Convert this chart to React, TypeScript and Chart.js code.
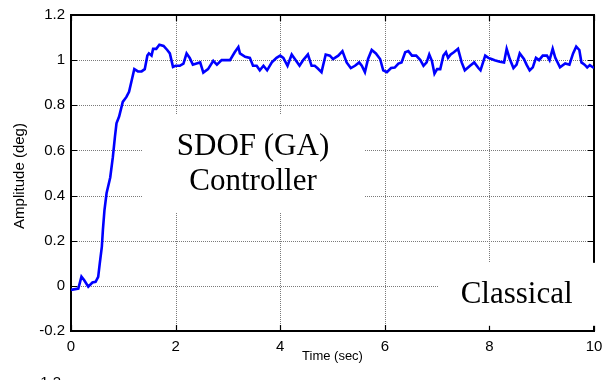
import React, { useEffect, useRef } from 'react';
import { Chart, registerables } from 'chart.js';

Chart.register(...registerables);

// Step response of the controlled single-degree-of-freedom system
const timeSec = [
  0, 0.14, 0.2, 0.25, 0.33, 0.41, 0.47, 0.52, 0.55, 0.59, 0.61, 0.64, 0.68, 0.75, 0.8, 0.84, 0.87, 0.92,
  0.99, 1.06, 1.11, 1.16, 1.21, 1.28, 1.35, 1.41, 1.46, 1.49, 1.54, 1.57, 1.63, 1.69, 1.77, 1.84, 1.89,
  1.92, 1.95, 2.0, 2.08, 2.15, 2.21, 2.27, 2.33, 2.4, 2.47, 2.53, 2.62, 2.72, 2.79, 2.88, 2.95, 3.04,
  3.13, 3.2, 3.23, 3.33, 3.42, 3.48, 3.55, 3.61, 3.68, 3.75, 3.84, 3.93, 4.0, 4.06, 4.14, 4.22, 4.28,
  4.37, 4.44, 4.53, 4.6, 4.66, 4.71, 4.79, 4.87, 4.95, 5.01, 5.11, 5.19, 5.27, 5.35, 5.43, 5.51, 5.56,
  5.62, 5.68, 5.75, 5.83, 5.91, 5.97, 6.04, 6.12, 6.19, 6.26, 6.32, 6.39, 6.45, 6.52, 6.6, 6.68, 6.74,
  6.8, 6.85, 6.9, 6.95, 7.0, 7.06, 7.12, 7.17, 7.21, 7.26, 7.32, 7.4, 7.47, 7.53, 7.63, 7.71, 7.79,
  7.83, 7.92, 7.98, 8.04, 8.1, 8.2, 8.28, 8.33, 8.39, 8.46, 8.52, 8.58, 8.66, 8.71, 8.77, 8.83, 8.89,
  8.95, 9.02, 9.1, 9.15, 9.21, 9.26, 9.35, 9.45, 9.53, 9.6, 9.66, 9.72, 9.76, 9.82, 9.87, 9.92, 10.0,
];

const amplitudeDeg = [
  -0.018, -0.012, 0.041, 0.026, -0.004, 0.015, 0.018, 0.04, 0.1, 0.174, 0.248, 0.336, 0.41, 0.48, 0.57,
  0.66, 0.72, 0.75, 0.815, 0.837, 0.86, 0.91, 0.96, 0.95, 0.95, 0.96, 1.02, 1.03, 1.02, 1.05, 1.05,
  1.068, 1.063, 1.045, 1.03, 1.0, 0.97, 0.975, 0.975, 0.985, 1.03, 1.01, 0.98, 0.985, 0.99, 0.945,
  0.96, 0.997, 0.98, 1.0, 1.0, 1.0, 1.035, 1.058, 1.03, 1.015, 1.01, 0.975, 0.975, 0.955, 0.975, 0.955,
  0.99, 1.01, 1.02, 1.01, 0.975, 1.025, 1.005, 0.975, 1.0, 1.025, 0.975, 0.975, 0.965, 0.947, 1.025,
  1.02, 1.005, 1.02, 1.04, 0.99, 0.965, 0.975, 0.99, 0.975, 0.947, 1.005, 1.045, 1.03, 1.005, 0.955,
  0.947, 0.965, 0.967, 0.985, 0.99, 1.035, 1.04, 1.02, 1.02, 1.0, 0.975, 0.99, 1.025, 0.997, 0.94,
  0.96, 0.96, 1.02, 1.035, 1.01, 1.025, 1.035, 1.05, 0.99, 0.955, 0.975, 0.99, 0.965, 0.955, 1.02,
  1.01, 1.005, 1.0, 0.993, 0.99, 1.05, 1.005, 0.965, 0.98, 1.03, 1.005, 0.98, 0.955, 0.968, 1.01, 1.0,
  1.02, 1.02, 1.0, 1.05, 1.01, 0.968, 0.985, 0.98, 1.03, 1.06, 1.045, 0.99, 0.98, 0.968, 0.978, 0.965,
];

const xTicks = [0, 2, 4, 6, 8, 10];
const xTickLabels = ['0', '2', '4', '6', '8', '10'];
const yTicks = [-0.2, 0, 0.2, 0.4, 0.6, 0.8, 1, 1.2];
const yTickLabels = ['-0.2', '0', '0.2', '0.4', '0.6', '0.8', '1', '1.2'];

const xTitle = 'Time (sec)';
const yTitle = 'Amplitude (deg)';
const noteLines = ['SDOF (GA)', 'Controller'];
const cornerNote = 'Classical';
const strayLabel = '1.2';

const SANS = '"Liberation Sans", Arial, sans-serif';
const SERIF = '"Liberation Serif", "Times New Roman", serif';

const framePlugin = {
  id: 'matlabFrame',
  beforeDatasetsDraw(chart: any) {
    const { ctx, chartArea: a, scales } = chart;
    const x = scales.x;
    const y = scales.y;
    ctx.save();
    // dotted grid
    ctx.strokeStyle = '#7a7a7a';
    ctx.lineWidth = 1;
    ctx.setLineDash([1, 1]);
    ctx.beginPath();
    xTicks.slice(1, -1).forEach((v) => {
      const px = Math.round(x.getPixelForValue(v)) + 0.5;
      ctx.moveTo(px, a.top);
      ctx.lineTo(px, a.bottom);
    });
    yTicks.slice(1, -1).forEach((v) => {
      const py = Math.round(y.getPixelForValue(v)) + 0.5;
      ctx.moveTo(a.left, py);
      ctx.lineTo(a.right, py);
    });
    ctx.stroke();

    // axes box
    ctx.setLineDash([]);
    ctx.strokeStyle = '#000000';
    ctx.lineWidth = 2;
    ctx.strokeRect(a.left, a.top, a.right - a.left, a.bottom - a.top);

    // inward tick marks on all four sides
    const tl = 6;
    ctx.lineWidth = 1.2;
    ctx.beginPath();
    xTicks.forEach((v) => {
      const px = Math.round(x.getPixelForValue(v)) + 0.5;
      ctx.moveTo(px, a.bottom);
      ctx.lineTo(px, a.bottom - tl);
      ctx.moveTo(px, a.top);
      ctx.lineTo(px, a.top + tl);
    });
    yTicks.forEach((v) => {
      const py = Math.round(y.getPixelForValue(v)) + 0.5;
      ctx.moveTo(a.left, py);
      ctx.lineTo(a.left + tl, py);
      ctx.moveTo(a.right, py);
      ctx.lineTo(a.right - tl, py);
    });
    ctx.stroke();
    ctx.restore();
  },
  afterDraw(chart: any) {
    const { ctx, chartArea: a, scales } = chart;
    const x = scales.x;
    const y = scales.y;
    ctx.save();

    // annotation panels
    ctx.fillStyle = '#ffffff';
    const l1 = x.getPixelForValue(1.36);
    const r1 = x.getPixelForValue(5.62);
    const t1 = y.getPixelForValue(0.757);
    const b1 = y.getPixelForValue(0.323);
    ctx.fillRect(l1, t1, r1 - l1, b1 - t1);

    const l2 = x.getPixelForValue(7.02);
    const t2 = y.getPixelForValue(0.102);
    const b2 = y.getPixelForValue(-0.177);
    ctx.fillRect(l2, t2, chart.width - l2, b2 - t2);

    ctx.fillStyle = '#000000';
    ctx.font = `31px ${SERIF}`;
    ctx.textAlign = 'center';
    ctx.textBaseline = 'alphabetic';
    const cx = x.getPixelForValue(3.48);
    ctx.fillText(noteLines[0], cx, y.getPixelForValue(0.58));
    ctx.fillText(noteLines[1], cx, y.getPixelForValue(0.425));
    ctx.fillText(cornerNote, x.getPixelForValue(8.52), y.getPixelForValue(-0.074));

    // axis titles
    ctx.textBaseline = 'middle';
    ctx.font = `13px ${SANS}`;
    ctx.fillText(xTitle, (a.left + a.right) / 2, 356);
    ctx.save();
    ctx.font = `15px ${SANS}`;
    ctx.translate(20, 176);
    ctx.rotate(-Math.PI / 2);
    ctx.fillText(yTitle, 0, 0);
    ctx.restore();

    ctx.font = `15px ${SANS}`;
    ctx.textAlign = 'right';
    ctx.textBaseline = 'alphabetic';
    ctx.fillText(strayLabel, 61, 386.5);
    ctx.restore();
  },
};

export default function App() {
  const canvasRef = useRef<HTMLCanvasElement | null>(null);

  useEffect(() => {
    document.body.style.margin = '0';
    const canvas = canvasRef.current;
    if (!canvas) return;
    const chart = new Chart(canvas, {
      type: 'line',
      data: {
        datasets: [
          {
            data: timeSec.map((t, i) => ({ x: t, y: amplitudeDeg[i] })),
            borderColor: '#0000ff',
            borderWidth: 2.6,
            pointRadius: 0,
            tension: 0,
            fill: false,
          },
        ],
      },
      options: {
        animation: false,
        responsive: false,
        devicePixelRatio: 1,
        layout: { padding: { top: 14, right: 17, left: 0, bottom: 0 } },
        plugins: { legend: { display: false }, tooltip: { enabled: false } },
        scales: {
          x: {
            type: 'linear',
            position: 'bottom',
            min: 0,
            max: 10,
            grid: { display: false, drawTicks: false },
            border: { display: false },
            afterBuildTicks: (s: any) => {
              s.ticks = xTicks.map((v) => ({ value: v }));
            },
            afterFit: (s: any) => {
              s.height = 49;
            },
            ticks: {
              padding: 7,
              color: '#000',
              font: { family: SANS, size: 15 },
              maxRotation: 0,
              callback: (_v: any, i: number) => xTickLabels[i],
            },
          },
          y: {
            type: 'linear',
            position: 'left',
            min: -0.2,
            max: 1.2,
            grid: { display: false, drawTicks: false },
            border: { display: false },
            afterBuildTicks: (s: any) => {
              s.ticks = yTicks.map((v) => ({ value: v }));
            },
            afterFit: (s: any) => {
              s.width = 71;
            },
            ticks: {
              padding: 6,
              color: '#000',
              font: { family: SANS, size: 15 },
              callback: (_v: any, i: number) => yTickLabels[i],
            },
          },
        },
      },
      plugins: [framePlugin],
    });
    return () => chart.destroy();
  }, []);

  return (
    <div style={{ position: 'absolute', left: 0, top: 0, width: 611, height: 380, background: '#fff' }}>
      <canvas ref={canvasRef} width={611} height={380} />
    </div>
  );
}
